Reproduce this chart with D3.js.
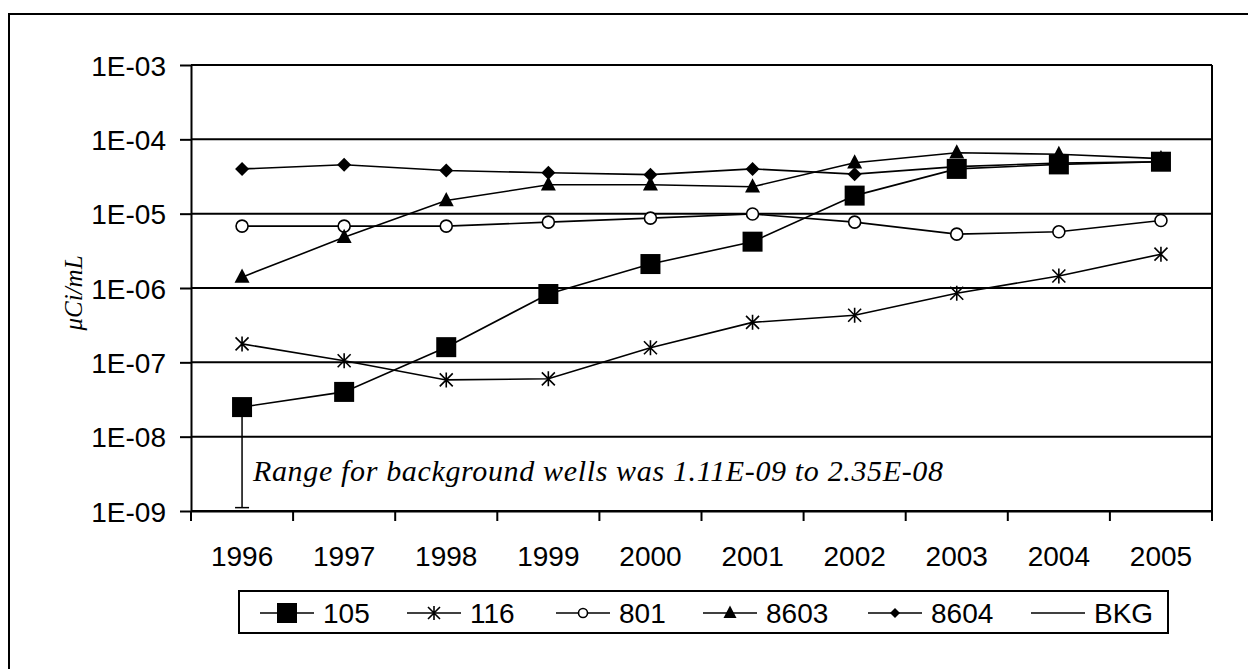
<!DOCTYPE html>
<html>
<head>
<meta charset="utf-8">
<script src="https://cdn.jsdelivr.net/npm/d3@7"></script>
<style>
  body { margin: 0; background: #fff; }
  text { font-family: Arial, "Liberation Sans", sans-serif; fill: #000; }
</style>
</head>
<body>
<script>
var width = 1248,
    height = 669;

// data
var years = ["1996", "1997", "1998", "1999", "2000", "2001", "2002", "2003", "2004", "2005"];
var w105  = [2.5e-8, 4.0e-8, 1.6e-7, 8.3e-7, 2.1e-6, 4.2e-6, 1.75e-5, 4.0e-5, 4.6e-5, 5.0e-5];
var w116  = [1.77e-7, 1.05e-7, 5.8e-8, 6.0e-8, 1.57e-7, 3.45e-7, 4.3e-7, 8.5e-7, 1.45e-6, 2.85e-6];
var w801  = [6.8e-6, 6.8e-6, 6.8e-6, 7.7e-6, 8.7e-6, 9.9e-6, 7.7e-6, 5.3e-6, 5.7e-6, 8.1e-6];
var w8603 = [1.4e-6, 4.8e-6, 1.5e-5, 2.45e-5, 2.45e-5, 2.3e-5, 4.85e-5, 6.6e-5, 6.3e-5, 5.5e-5];
var w8604 = [4.0e-5, 4.55e-5, 3.8e-5, 3.55e-5, 3.35e-5, 4.0e-5, 3.4e-5, 4.3e-5, 4.8e-5, 5.0e-5];
var bkgRange = [1.11e-9, 2.35e-8];
var yTicks = [1e-3, 1e-4, 1e-5, 1e-6, 1e-7, 1e-8, 1e-9];
var yTickLabels = ["1E-03", "1E-04", "1E-05", "1E-06", "1E-07", "1E-08", "1E-09"];
var seriesNames = ["105", "116", "801", "8603", "8604", "BKG"];

var series = [
  {name: "105", values: w105, symbol: "square"},
  {name: "116", values: w116, symbol: "star"},
  {name: "801", values: w801, symbol: "circle"},
  {name: "8603", values: w8603, symbol: "triangle"},
  {name: "8604", values: w8604, symbol: "diamond"}
];

var plotLeft = 191, plotRight = 1212, plotTop = 65, plotBottom = 511;

var svg = d3.select("body").append("svg")
    .attr("width", width)
    .attr("height", height);

// outer frame (cut by the picture edge on right and bottom)
svg.append("rect")
    .attr("x", 9).attr("y", 14)
    .attr("width", 1260).attr("height", 680)
    .attr("fill", "none")
    .attr("stroke", "#000")
    .attr("stroke-width", 2);

var x = d3.scaleBand()
    .domain(years)
    .range([plotLeft, plotRight]);

var y = d3.scaleLog()
    .domain([1e-9, 1e-3])
    .range([plotBottom, plotTop]);

function cx(i) { return x(years[i]) + x.bandwidth() / 2; }

// gridlines
svg.append("g").attr("class", "grid")
  .selectAll("line")
  .data(yTicks)
  .enter().append("line")
    .attr("x1", plotLeft)
    .attr("x2", plotRight)
    .attr("y1", d => y(d))
    .attr("y2", d => y(d))
    .attr("stroke", "#000")
    .attr("stroke-width", 2);

// right border of the plot
svg.append("line")
    .attr("x1", plotRight).attr("x2", plotRight)
    .attr("y1", plotTop).attr("y2", plotBottom)
    .attr("stroke", "#000").attr("stroke-width", 2);

// y axis
var yAxis = d3.axisLeft(y)
    .tickValues(yTicks)
    .tickFormat((d, i) => yTickLabels[i])
    .tickSizeInner(11)
    .tickSizeOuter(0)
    .tickPadding(14);

var gy = svg.append("g")
    .attr("transform", "translate(" + plotLeft + ",0)")
    .call(yAxis);
gy.selectAll("path, line").attr("stroke", "#000").attr("stroke-width", 2);
gy.selectAll("text")
    .style("font-size", "28px")
    .style("font-family", "Arial, 'Liberation Sans', sans-serif")
    .attr("dy", "0.36em");

// x axis, ticks between categories
var xAxis = d3.axisBottom(x)
    .tickSize(0)
    .tickPadding(35);

var gx = svg.append("g")
    .attr("transform", "translate(0," + plotBottom + ")")
    .call(xAxis);
gx.select("path").attr("stroke", "#000").attr("stroke-width", 2);
gx.selectAll("text")
    .style("font-size", "28px")
    .style("font-family", "Arial, 'Liberation Sans', sans-serif");

svg.append("g").selectAll("line")
  .data(years.concat(["end"]))
  .enter().append("line")
    .attr("x1", (d, i) => plotLeft + i * x.bandwidth())
    .attr("x2", (d, i) => plotLeft + i * x.bandwidth())
    .attr("y1", plotBottom)
    .attr("y2", plotBottom + 10)
    .attr("stroke", "#000")
    .attr("stroke-width", 2);

// y label
svg.append("text")
    .attr("transform", "translate(82," + ((plotTop + plotBottom) / 2 + 5) + ") rotate(-90)")
    .attr("text-anchor", "middle")
    .style("font-family", "'Times New Roman', 'Liberation Serif', serif")
    .style("font-style", "italic")
    .style("font-size", "25px")
    .text("\u03bcCi/mL");

// background range (BKG)
var bx = cx(0);
var bkg = svg.append("g").attr("class", "bkg");
bkg.append("line")
    .attr("x1", bx).attr("x2", bx)
    .attr("y1", y(bkgRange[0])).attr("y2", y(bkgRange[1]))
    .attr("stroke", "#000").attr("stroke-width", 1.5);
bkg.selectAll("line.cap")
  .data(bkgRange)
  .enter().append("line")
    .attr("class", "cap")
    .attr("x1", bx - 7).attr("x2", bx + 7)
    .attr("y1", d => y(d)).attr("y2", d => y(d))
    .attr("stroke", "#000").attr("stroke-width", 1.5);

svg.append("text")
    .attr("x", 253)
    .attr("y", 481)
    .attr("textLength", 690)
    .attr("lengthAdjust", "spacing")
    .style("font-family", "'Times New Roman', 'Liberation Serif', serif")
    .style("font-style", "italic")
    .style("font-size", "30px")
    .text("Range for background wells was 1.11E-09 to 2.35E-08");

// symbols
function drawSymbol(g, type, px, py, s) {
  if (type === "square") {
    g.append("rect")
      .attr("x", px - s / 2).attr("y", py - s / 2)
      .attr("width", s).attr("height", s)
      .attr("fill", "#000");
  } else if (type === "circle") {
    g.append("circle")
      .attr("cx", px).attr("cy", py).attr("r", s / 2)
      .attr("fill", "#fff").attr("stroke", "#000").attr("stroke-width", 1.6);
  } else if (type === "triangle") {
    var h = s * 0.95;
    g.append("path")
      .attr("d", "M" + px + "," + (py - h * 0.6) + "L" + (px + s / 2) + "," + (py + h * 0.4) +
                 "L" + (px - s / 2) + "," + (py + h * 0.4) + "Z")
      .attr("fill", "#000");
  } else if (type === "diamond") {
    g.append("path")
      .attr("d", "M" + px + "," + (py - s / 2) + "L" + (px + s / 2) + "," + py +
                 "L" + px + "," + (py + s / 2) + "L" + (px - s / 2) + "," + py + "Z")
      .attr("fill", "#000");
  } else if (type === "star") {
    var r = s / 2;
    g.append("path")
      .attr("d", "M" + (px - r) + "," + (py - r) + "L" + (px + r) + "," + (py + r) +
                 "M" + (px + r) + "," + (py - r) + "L" + (px - r) + "," + (py + r) +
                 "M" + px + "," + (py - r - 1) + "L" + px + "," + (py + r + 1))
      .attr("stroke", "#000").attr("stroke-width", 1.6).attr("fill", "none");
  }
}

var markerSize = {square: 20, star: 13, circle: 12, triangle: 15, diamond: 14};

var line = d3.line()
    .x((d, i) => cx(i))
    .y(d => y(d));

var plot = svg.append("g").attr("class", "plot");

series.forEach(function(s) {
  plot.append("path")
    .datum(s.values)
    .attr("d", line)
    .attr("fill", "none")
    .attr("stroke", "#000")
    .attr("stroke-width", 1.6);
});

series.forEach(function(s) {
  var g = plot.append("g");
  s.values.forEach(function(v, i) {
    drawSymbol(g, s.symbol, cx(i), y(v), markerSize[s.symbol]);
  });
});

// legend
var legend = svg.append("g").attr("class", "legend");
legend.append("rect")
    .attr("x", 239).attr("y", 591)
    .attr("width", 929).attr("height", 42)
    .attr("fill", "#fff")
    .attr("stroke", "#000")
    .attr("stroke-width", 2);

var legendX = [260, 407, 556, 703, 868, 1031];
var legendSym = ["square", "star", "circle", "triangle", "diamond", null];
var legendSize = {square: 20, star: 12, circle: 9, triangle: 13, diamond: 10};
var ly = 613;

seriesNames.forEach(function(name, i) {
  var lx = legendX[i];
  legend.append("line")
    .attr("x1", lx).attr("x2", lx + 54)
    .attr("y1", ly).attr("y2", ly)
    .attr("stroke", "#000").attr("stroke-width", 1.6);
  if (legendSym[i]) drawSymbol(legend, legendSym[i], lx + 27, ly, legendSize[legendSym[i]]);
  legend.append("text")
    .attr("x", lx + 63)
    .attr("y", ly)
    .attr("dy", "0.36em")
    .style("font-size", "28px")
    .text(name);
});
</script>
</body>
</html>
